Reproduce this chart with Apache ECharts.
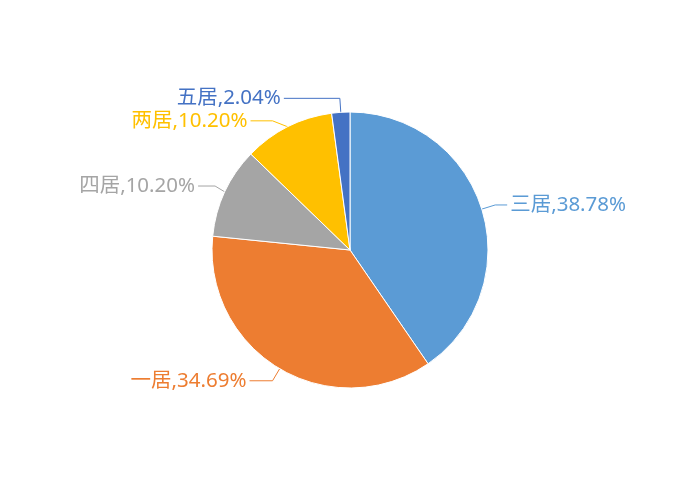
<!DOCTYPE html>
<html><head><meta charset="utf-8">
<script src="https://cdn.jsdelivr.net/npm/echarts@6/dist/echarts.min.js"></script>
<style>html,body{margin:0;padding:0;background:#fff}#c{width:700px;height:500px}</style>
</head><body><div id="c"></div>
<script>
var categories = ['三居','一居','四居','两居','五居'];
var values = [19,17,5,5,1];
var percentLabels = ['38.78%','34.69%','10.20%','10.20%','2.04%'];
var colors = ['#5B9BD5','#ED7D31','#A5A5A5','#FFC000','#4472C4'];
var lineTail = [12,23,17,22,56];
var chart = echarts.init(document.getElementById('c'));
chart.setOption({
  animation:false,
  series:[{
    type:'pie',
    center:[350,250],
    radius:138,
    startAngle:90,
    clockwise:true,
    itemStyle:{borderColor:'#fff',borderWidth:1},
    label:{
      formatter:function(p){return p.name+','+percentLabels[p.dataIndex];},
      fontSize:20.5,
      fontFamily:'Noto Sans, Noto Sans CJK SC',
      color:'inherit',
      distanceToLabelLine:3
    },
    labelLine:{length:14,length2:14,lineStyle:{width:1}},
    data:categories.map(function(n,i){return {name:n,value:values[i],itemStyle:{color:colors[i]},label:{color:colors[i]},labelLine:{length2:lineTail[i]}};})
  }]
});
</script></body></html>
